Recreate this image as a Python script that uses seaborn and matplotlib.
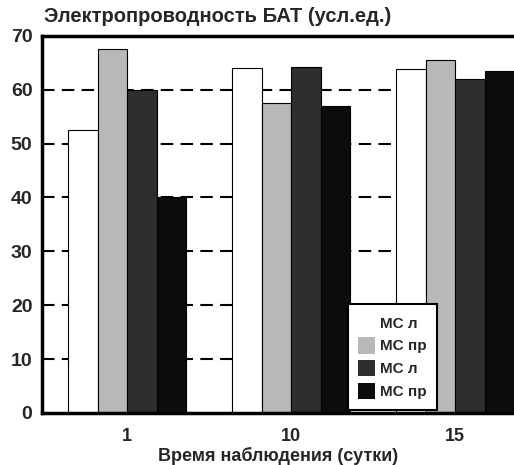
import pandas as pd
import matplotlib.pyplot as plt
import seaborn as sns
from matplotlib.patches import Patch

# Data
days = ['1', '10', '15']
series = ['s1', 's2', 's3', 's4']
legend_labels = ['МС л', 'МС пр', 'МС л', 'МС пр']
values = {
    's1': [52.5, 64.0, 63.8],
    's2': [67.5, 57.5, 65.5],
    's3': [60.0, 64.3, 62.0],
    's4': [40.0, 57.0, 63.5],
}
colors = ['#ffffff', '#b8b8b8', '#2e2e2e', '#0c0c0c']

rows = []
for s in series:
    for d, v in zip(days, values[s]):
        rows.append({'day': d, 'series': s, 'value': v})
df = pd.DataFrame(rows)

sns.set_style('white')
plt.rcParams['font.family'] = ['Liberation Sans', 'DejaVu Sans']
plt.rcParams['font.weight'] = 'bold'

fig = plt.figure(figsize=(5.14, 4.65), dpi=100)
ax = fig.add_axes([0.082, 0.112, 0.918, 0.811])

# Dashed grid behind the bars
for y in range(10, 70, 10):
    ax.axhline(y, color='black', linestyle=(0, (6, 3.5)), linewidth=1.5, zorder=0)

sns.barplot(data=df, x='day', y='value', hue='series', order=days, hue_order=series,
            palette=colors, width=0.72, edgecolor='black', linewidth=0.8,
            ax=ax, zorder=2, legend=False)

ax.set_xlim(-0.52, 2.36)
ax.set_ylim(0, 70)
ax.set_yticks(range(0, 71, 10))
ax.tick_params(axis='y', labelsize=14, length=4, width=1.5, direction='in', pad=7)
ax.tick_params(axis='x', labelsize=13, length=0, pad=11)
for lab in ax.get_xticklabels() + ax.get_yticklabels():
    lab.set_fontweight('bold')

for side in ['top', 'left', 'bottom']:
    ax.spines[side].set_linewidth(2.5)
    ax.spines[side].set_color('black')
ax.spines['right'].set_visible(False)

ax.set_ylabel('')
ax.set_xlabel('Время наблюдения (сутки)', fontsize=13, fontweight='bold', labelpad=1)
fig.text(0.086, 0.945, 'Электропроводность БАТ (усл.ед.)', fontsize=14.5,
         fontweight='bold', ha='left', va='bottom')

# Legend
handles = [Patch(facecolor=c, edgecolor='none') for c in colors]
leg = ax.legend(handles, legend_labels, loc='lower right', bbox_to_anchor=(0.837, 0.008),
                borderaxespad=0, fontsize=11, frameon=True, framealpha=1, fancybox=False,
                handlelength=1.1, handleheight=1.3, handletextpad=0.3, borderpad=0.7,
                labelspacing=0.4)
leg.get_frame().set_edgecolor('black')
leg.get_frame().set_linewidth(1.5)
for t in leg.get_texts():
    t.set_fontweight('bold')

fig.savefig('out.png', dpi=100)
